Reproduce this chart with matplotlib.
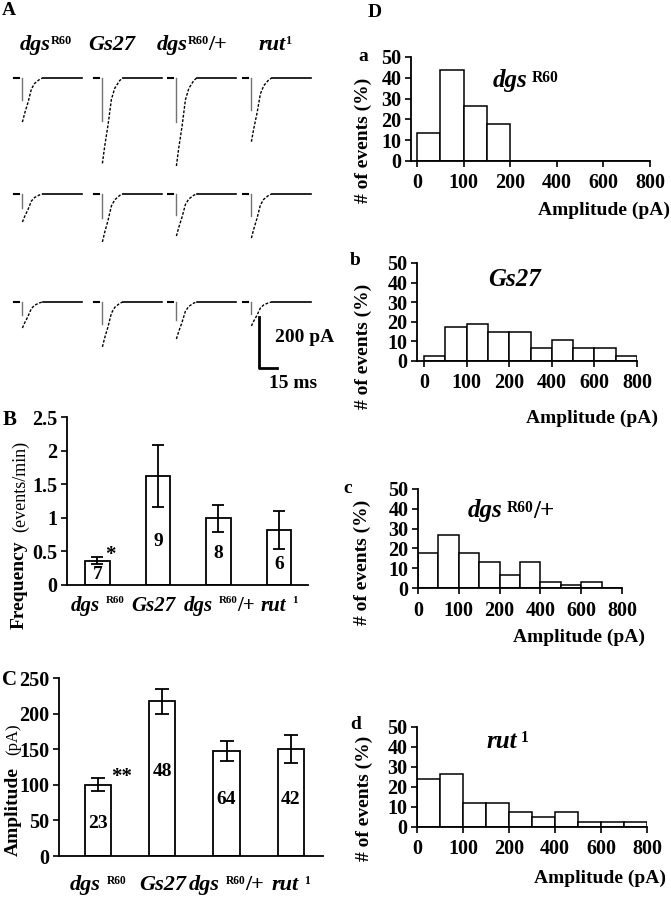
import numpy as np
import matplotlib
matplotlib.use('Agg')
import matplotlib.pyplot as plt
from matplotlib.offsetbox import TextArea, HPacker, AnnotationBbox

plt.rcParams['font.family'] = 'Liberation Serif'
plt.rcParams['font.weight'] = 'bold'

W, H = 671, 900

# genotype names: italic base, superscript, tail
gene_base = ['dgs', 'Gs27', 'dgs', 'rut']
gene_sup = ['R60', '', 'R60', '1']
gene_tail = ['', '', '/+', '']

# B: mEJC frequency (events/min)
freq_mean = [0.36, 1.62, 0.99, 0.82]
freq_err = [0.05, 0.46, 0.20, 0.28]
freq_n = ['7', '9', '8', '6']

# C: mEJC amplitude (pA)
amp_mean = [100, 217, 147, 150]
amp_err = [9, 18, 14, 20]
amp_n = ['23', '48', '64', '42']

# D: amplitude histograms (% of events per bin)
hist_ticklabels = ['0', '100', '200', '400', '600', '800']
hist_a = [13.3, 43.7, 26.5, 17.8, 0, 0, 0, 0, 0, 0]
hist_b = [2.6, 17.1, 18.8, 15.0, 15.0, 6.5, 10.8, 6.5, 6.5, 2.6]
hist_c = [17.5, 27.0, 17.5, 13.0, 6.5, 13.0, 3.0, 1.7, 3.0, 0]
hist_d = [24.2, 26.3, 12.0, 12.0, 7.3, 4.8, 7.3, 2.7, 2.7, 2.7]

# A: example traces, peak amplitude (pA), rows x genotypes
trace_peak = [[173, 335, 345, 250],
              [110, 188, 165, 173],
              [102, 176, 145, 94]]
# normalised decay
decay_t = [0, 1.9, 4.7, 7.5, 10.3, 14.4, 16.9]   # ms after peak
decay_frac = [1, 0.8, 0.55, 0.25, 0.12, 0.03, 0]

fig = plt.figure(figsize=(W / 100, H / 100), dpi=100)


def axes_px(left, right, top, bottom):
    return fig.add_axes([left / W, 1 - bottom / H, (right - left) / W, (bottom - top) / H])


def ftext(x, y, s, **kw):
    return fig.text(x / W, 1 - y / H, s, **kw)


def gene_box(i, size, sep=0, sup_scale=0.55):
    base = TextArea(gene_base[i], textprops=dict(fontsize=size, style='italic', weight='bold'))
    box = base
    if gene_sup[i]:
        sup = TextArea(gene_sup[i], textprops=dict(fontsize=size * sup_scale, weight='bold'))
        box = HPacker(children=[base, sup], align='top', pad=0, sep=sep)
    parts = [box]
    if gene_tail[i]:
        parts.append(TextArea(gene_tail[i], textprops=dict(fontsize=size, weight='bold')))
    return HPacker(children=parts, align='bottom', pad=0, sep=0)


def put_box(box, xy, ax=None, xycoords='figure pixels', align=(0.5, 0.5)):
    ab = AnnotationBbox(box, xy, xycoords=xycoords, frameon=False, pad=0,
                        box_alignment=align, annotation_clip=False)
    ab.set_clip_on(False)
    if ax is None:
        fig.add_artist(ab)
    else:
        ax.add_artist(ab)


def style_axes(ax):
    for s in ['top', 'right']:
        ax.spines[s].set_visible(False)
    for s in ['left', 'bottom']:
        ax.spines[s].set_linewidth(1.3)
    ax.tick_params(direction='out', length=4, width=1.2, labelsize=14.5, pad=3)


# ---------------- A: traces ----------------
ms_px = 15 / 18.0
pa_px = 200 / 51.0
axA = axes_px(0, 340, 60, 390)
axA.set_xlim(0, 340 * ms_px)
axA.set_ylim(-330 * pa_px, 0)
axA.axis('off')
col_x0 = [14, 94, 168, 243]
row_y0 = [78, 194, 302]
for r in range(3):
    for c in range(4):
        t0 = col_x0[c] * ms_px
        b = -(row_y0[r] - 60) * pa_px
        A = trace_peak[r][c]
        tp = t0 + 7
        axA.plot([t0, t0 + 4], [b, b], color='k', lw=1.5)
        axA.plot([tp - 0.6, tp - 0.6], [b, b - 0.5 * A], color='0.45', lw=1)
        axA.plot(tp + np.array(decay_t), b - A * np.array(decay_frac),
                 color='k', lw=1, ls=(0, (2, 1.2)))
        axA.plot([tp + decay_t[-1], t0 + 57], [b, b], color='k', lw=1.2)

sx = 259 * ms_px
sy = -(368 - 60) * pa_px
axA.plot([sx, sx, sx + 15], [sy + 200, sy, sy], color='k', lw=2)
ftext(275, 338, '200 pA', ha='left', va='center', fontsize=14)
ftext(293, 383, '15 ms', ha='center', va='center', fontsize=14)

title_x = [46, 112, 192, 275]
for i in range(4):
    put_box(gene_box(i, 16), (title_x[i], H - 45))

# ---------------- B: frequency ----------------
xcat = np.arange(4)
axB = axes_px(67, 308, 417, 585)
axB.bar(xcat, freq_mean, width=0.41, yerr=freq_err, color='white', edgecolor='k',
        linewidth=1.3, capsize=4, error_kw=dict(elinewidth=1.3, capthick=1.3))
axB.set_xlim(-0.504, 3.48)
axB.set_ylim(0, 2.5)
axB.set_yticks([0, 0.5, 1, 1.5, 2, 2.5])
axB.set_yticklabels(['0', '0.5', '1', '1.5', '2', '2.5'])
axB.set_xticks([])
style_axes(axB)
freq_n_y = [0.15, 0.64, 0.47, 0.30]
b_label_shift = [0, -0.07, 0.02, 0]
for i in range(4):
    axB.text(xcat[i], freq_n_y[i], freq_n[i], ha='center', va='center', fontsize=14)
    put_box(gene_box(i, 15, sep=4, sup_scale=0.52), (xcat[i] + b_label_shift[i], H - 606),
            ax=axB, xycoords=('data', 'figure pixels'))
axB.text(0.21, 0.37, '*', ha='center', va='baseline', fontsize=15)
ftext(19, 585, 'Frequency', rotation=90, ha='center', va='center', fontsize=14)
ftext(21, 486, '(events/min)', rotation=90, ha='center', va='center',
      fontsize=13, fontweight='normal')

# ---------------- C: amplitude ----------------
axC = axes_px(59, 323, 678, 856)
axC.bar(xcat, amp_mean, width=0.41, yerr=amp_err, color='white', edgecolor='k',
        linewidth=1.3, capsize=5, error_kw=dict(elinewidth=1.3, capthick=1.3))
axC.set_xlim(-0.607, 3.5)
axC.set_ylim(0, 250)
axC.set_yticks([0, 50, 100, 150, 200, 250])
axC.set_xticks([])
style_axes(axC)
amp_n_y = [46, 119, 80, 80]
for i in range(4):
    axC.text(xcat[i], amp_n_y[i], amp_n[i], ha='center', va='center', fontsize=14)
    put_box(gene_box(i, 16, sep=4, sup_scale=0.52), (xcat[i], H - 885), ax=axC,
            xycoords=('data', 'figure pixels'))
axC.text(0.373, 104, '**', ha='center', va='baseline', fontsize=15)
ftext(13, 812, 'Amplitude', rotation=90, ha='center', va='center', fontsize=14)
ftext(13, 739, '(pA)', rotation=90, ha='center', va='center', fontsize=12,
      fontweight='normal')

# ---------------- D: histograms ----------------
hists = [hist_a, hist_b, hist_c, hist_d]
hist_pos = [(411, 650, 57, 161), (417, 637, 263, 361), (418, 622, 489, 588), (417, 647, 727, 827)]
hist_xmin = [-0.26, -0.33, 0, 0]
hist_sub = ['a', 'b', 'c', 'd']
sub_xy = [(358, 61), (350, 265), (343, 493), (350, 729)]
ylab_xy = [(363, 140), (363, 346), (362, 562), (364, 798)]
xlab_xy = [(604, 210), (592, 418), (579, 637), (600, 878)]
title_xy = [(493, 81), (488, 280), (468, 511), (486, 742)]
for k in range(4):
    ax = axes_px(*hist_pos[k])
    vals = hists[k]
    ax.bar(np.arange(len(vals)) + 0.5, vals, width=1, color='white', edgecolor='k', linewidth=1.1)
    ax.set_xlim(hist_xmin[k], 10)
    ax.set_ylim(0, 50)
    ax.set_yticks([0, 10, 20, 30, 40, 50])
    ax.set_xticks([0, 2, 4, 6, 8, 10])
    ax.set_xticklabels(hist_ticklabels)
    style_axes(ax)
    ax.tick_params(axis='x', pad=5)
    ftext(sub_xy[k][0], sub_xy[k][1], hist_sub[k], ha='left', va='baseline', fontsize=14)
    ftext(ylab_xy[k][0], ylab_xy[k][1], '# of events (%)', rotation=90,
          ha='center', va='center', fontsize=14)
    ftext(xlab_xy[k][0], xlab_xy[k][1], 'Amplitude (pA)', ha='center', va='center', fontsize=14)
    put_box(gene_box(k, 18, sep=3, sup_scale=0.62), (title_xy[k][0], H - title_xy[k][1]),
            align=(0, 0.5))

# panel letters
ftext(2, 15, 'A', ha='left', va='baseline', fontsize=14)
ftext(3, 425, 'B', ha='left', va='baseline', fontsize=15)
ftext(2, 685, 'C', ha='left', va='baseline', fontsize=15)
ftext(368, 17, 'D', ha='left', va='baseline', fontsize=14)

fig.savefig('out.png', dpi=100)
